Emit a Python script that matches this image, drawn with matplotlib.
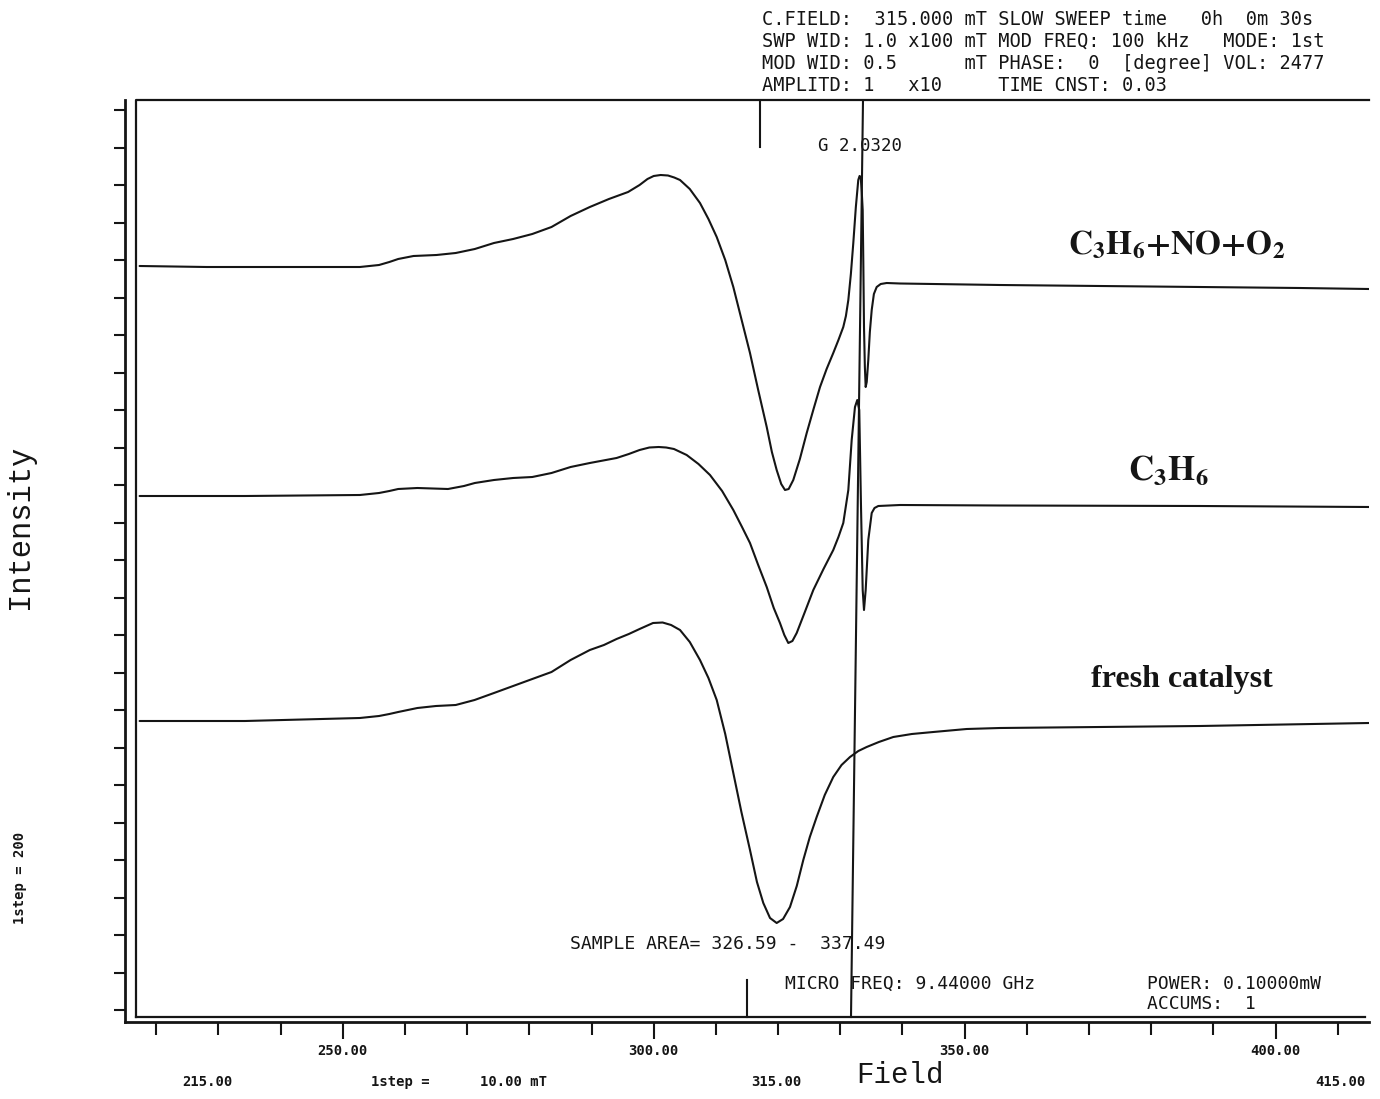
import matplotlib.pyplot as plt
import numpy as np

plt.rcParams['mathtext.fontset'] = 'stix'

# spectra: field in mT, intensity in arbitrary units
field_no = [217.35, 228.12, 240.45, 252.76, 255.84, 257.5, 258.92, 261.38, 265.08, 268.17,
            271.24, 274.32, 277.40, 280.48, 283.57, 286.64, 289.73, 292.80, 295.88, 297.73,
            299.0, 300.0, 301.12, 302.3, 303.3, 304.23, 305.8, 307.44, 308.8, 310.13,
            311.5, 312.80, 314.1, 315.48, 316.8, 318.17, 319.0, 319.77, 320.5, 321.11,
            321.7, 322.44, 323.5, 324.60, 325.7, 326.74, 327.8, 328.87, 329.7, 330.48,
            330.9, 331.29, 331.7, 332.09, 332.5, 332.89, 333.1, 333.28, 333.45, 333.60,
            333.7, 333.81, 333.95, 334.08, 334.25, 334.50, 334.75, 335.05, 335.4, 335.85,
            336.5, 337.46, 339.60, 355.67, 371.75, 387.83, 403.90, 415.00]
int_no = [756, 755, 755, 755, 757, 760, 763, 766, 767, 769,
          773, 779, 783, 788, 795, 806, 815, 823, 830, 837,
          843, 846, 847, 846.5, 844.5, 842, 833, 819, 803, 785,
          762, 735, 703, 669, 632, 595, 570, 552, 538, 532,
          533, 542, 563, 589, 613, 635, 653, 669, 682, 695,
          706, 722, 748, 779, 815, 842, 846, 845, 830, 812,
          760, 695, 655, 635, 640, 662, 690, 712, 728, 735,
          738, 739, 738.5, 737, 736, 735, 734, 733]

field_c3h6 = [217.35, 234.29, 252.76, 255.84, 257.5, 258.92, 262.01, 266.93, 269.5, 271.24,
              274.32, 277.4, 280.48, 283.57, 286.64, 289.73, 294.03, 296.0, 297.73, 299.3,
              300.80, 302.0, 303.26, 305.30, 307.2, 309.05, 311.0, 312.80, 314.2, 315.48,
              316.8, 318.17, 319.3, 320.30, 321.0, 321.64, 322.3, 322.99, 324.3, 325.66,
              327.3, 328.87, 329.7, 330.48, 331.29, 331.83, 332.36, 332.73, 333.05, 333.33,
              333.60, 333.81, 334.08, 334.50, 335.05, 335.5, 336.11, 339.60, 355.67, 387.83,
              415.00]
int_c3h6 = [526, 526, 527, 529, 531, 533, 534, 533, 536, 539,
            542, 544, 545, 549, 555, 559, 564, 568, 572, 574.5,
            575, 574.5, 573, 567, 558, 547, 531, 512, 495, 479,
            457, 435, 414, 399, 387, 379, 381, 389, 410, 432,
            453, 472, 485, 499, 532, 582, 615, 622, 612, 515,
            432, 412, 432, 482, 509, 514, 516, 517, 516.5, 516,
            515]

field_fresh = [217.35, 234.29, 252.76, 255.84, 257.5, 258.92, 262.01, 265.0, 268.17, 271.2,
               274.32, 277.4, 280.48, 283.57, 286.64, 289.73, 292.0, 294.03, 296.0, 297.73,
               299.89, 301.43, 302.8, 304.23, 305.8, 307.44, 308.8, 310.13, 311.5, 312.80,
               314.1, 315.48, 316.6, 317.62, 318.7, 319.77, 320.8, 321.91, 323.0, 324.05,
               325.1, 326.20, 327.5, 328.87, 330.2, 331.56, 332.9, 334.24, 336.2, 338.52,
               341.5, 344.95, 350.32, 355.67, 371.75, 387.83, 415.00]
int_fresh = [301, 301, 304, 306, 308, 310, 314, 316, 317, 322,
             329, 336, 343, 350, 362, 372, 377, 383, 388, 393,
             399, 399.5, 397, 392, 380, 362, 344, 322, 288, 249,
             210, 172, 140, 119, 104, 99, 103, 115, 136, 162,
             185, 205, 227, 245, 257, 265, 271, 275, 280, 285,
             288, 290, 293, 294, 295, 296, 299]

header = ["C.FIELD:  315.000 mT SLOW SWEEP time   0h  0m 30s",
          "SWP WID: 1.0 x100 mT MOD FREQ: 100 kHz   MODE: 1st",
          "MOD WID: 0.5      mT PHASE:  0  [degree] VOL: 2477",
          "AMPLITD: 1   x10     TIME CNST: 0.03"]

major_ticks = [250, 300, 350, 400]
major_labels = ['250.00', '300.00', '350.00', '400.00']

W, H = 1380, 1099
fig = plt.figure(figsize=(W / 100, H / 100), dpi=100)
ax = fig.add_axes([125 / W, 1 - 1022 / H, 1244 / W, 922 / H])
ax.set_xlim(215, 415)
ax.set_ylim(0, 922)

ink = '#151515'
for f, i in [(field_no, int_no), (field_c3h6, int_c3h6), (field_fresh, int_fresh)]:
    ax.plot(f, i, color=ink, lw=1.5, solid_joinstyle='round', solid_capstyle='round')

# g-marker line and centre-field ticks (scan is slightly skewed)
ax.plot([333.65, 331.72], [922, 5], color=ink, lw=1.5)
ax.plot([317.09, 317.09], [922, 875], color=ink, lw=1.5)
ax.plot([315.0, 315.0], [5, 42], color=ink, lw=1.5)

# inner frame
x0 = 11 / 1244
ax.plot([x0, x0, 1.0], [0.005, 1.0, 1.0], transform=ax.transAxes, color=ink, lw=1.6, clip_on=False)
ax.plot([x0, 0.997], [0.005, 0.005], transform=ax.transAxes, color=ink, lw=1.6, clip_on=False)

for s in ['top', 'right']:
    ax.spines[s].set_visible(False)
for s in ['left', 'bottom']:
    ax.spines[s].set_linewidth(2)
    ax.spines[s].set_color(ink)

ax.set_xticks(major_ticks)
ax.set_xticklabels(major_labels, family='DejaVu Sans Mono', fontsize=10, fontweight='bold')
ax.set_xticks(np.arange(220, 415, 10), minor=True)
ax.tick_params(axis='x', which='major', direction='out', length=12, width=1.5, pad=4, colors=ink)
ax.tick_params(axis='x', which='minor', direction='out', length=9, width=1.5, colors=ink)
ax.set_yticks(np.arange(12, 922, 37.5))
ax.tick_params(axis='y', direction='out', length=8, width=1.5, labelleft=False, colors=ink)


def ftext(x, y, s, **kw):
    fig.text(x / W, 1 - y / H, s, color=ink, **kw)


mono = dict(family='DejaVu Sans Mono', fontsize=13.4)
for k, line in enumerate(header):
    ftext(762, 25 + k * 22, line, va='baseline', **mono)

ftext(818, 151, "G 2.0320", va='baseline', family='DejaVu Sans Mono', fontsize=12.5)
ftext(570, 949, "SAMPLE AREA= 326.59 -  337.49", va='baseline', family='DejaVu Sans Mono', fontsize=13)
ftext(785, 989, "MICRO FREQ: 9.44000 GHz", va='baseline', family='DejaVu Sans Mono', fontsize=13)
ftext(1147, 989, "POWER: 0.10000mW", va='baseline', family='DejaVu Sans Mono', fontsize=13)
ftext(1147, 1009, "ACCUMS:  1", va='baseline', family='DejaVu Sans Mono', fontsize=13)

small = dict(family='DejaVu Sans Mono', fontsize=10, fontweight='bold', ha='center', va='center')
ftext(207, 1082, "215.00", **small)
ftext(400, 1082, "1step =", **small)
ftext(514, 1082, "10.00 mT", **small)
ftext(776, 1082, "315.00", **small)
ftext(1340, 1082, "415.00", **small)
ftext(900, 1075, "Field", family='Liberation Mono', fontsize=21, ha='center', va='center')
ftext(20, 527, "Intensity", family='Liberation Mono', fontsize=22, rotation=90, ha='center', va='center')
ftext(20, 878, "1step = 200", family='DejaVu Sans Mono', fontsize=10, fontweight='bold',
      rotation=90, ha='center', va='center')

ftext(1177, 245, r'$\mathbf{C_3H_6{+}NO{+}O_2}$', fontsize=24, ha='center', va='center')
ftext(1168, 470, r'$\mathbf{C_3H_6}$', fontsize=25, ha='center', va='center')
ftext(1182, 680, 'fresh catalyst', family='Liberation Serif', fontweight='bold', fontsize=23,
      ha='center', va='center')

fig.savefig('out.png', dpi=100)
